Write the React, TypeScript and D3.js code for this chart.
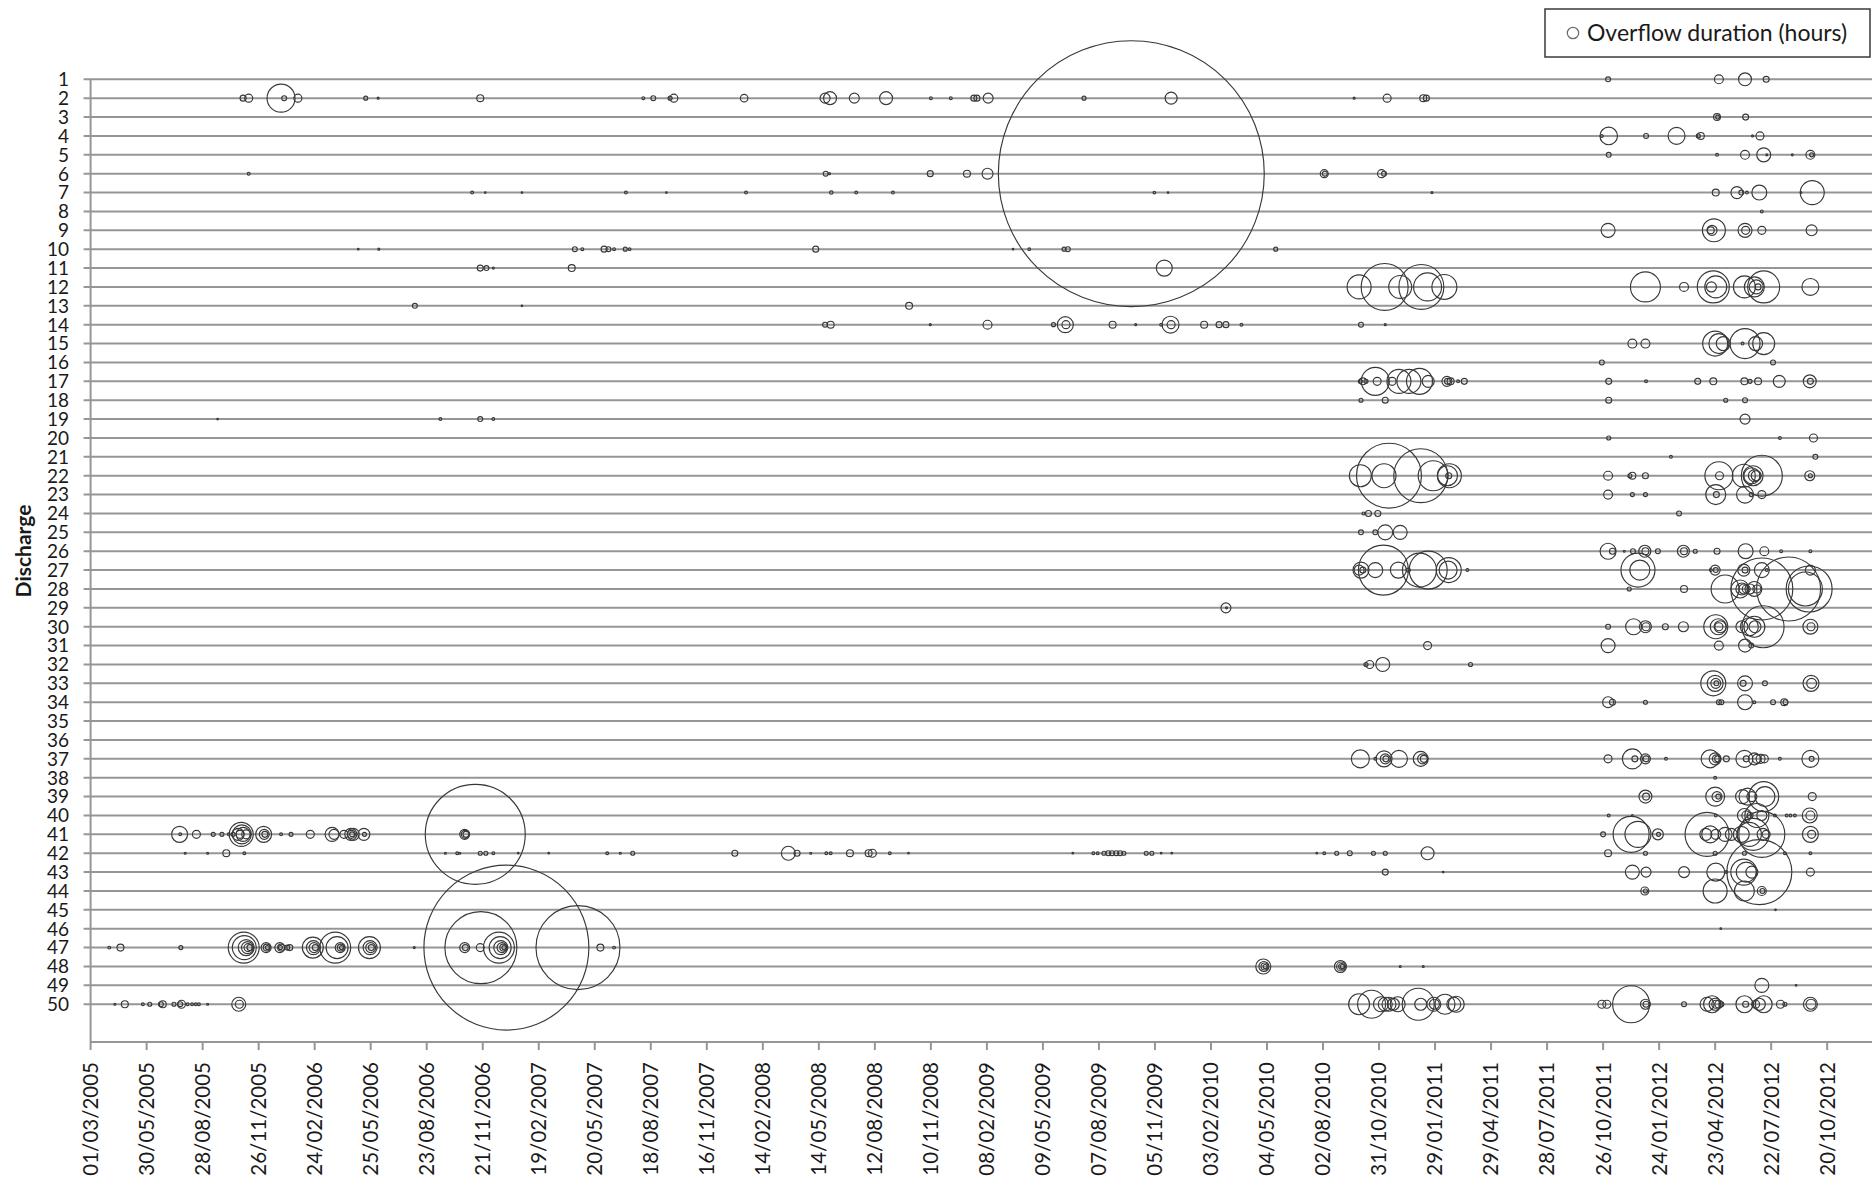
import React from "react";
import * as d3 from "d3";

type Ev = [number, number]; // [days since START_DATE, overflow duration in hours]

const START_DATE = "01/03/2005";
const END_DATE = "31/12/2012";
const TICK_LABELS = [
  "01/03/2005", "30/05/2005", "28/08/2005", "26/11/2005", "24/02/2006", "25/05/2006",
  "23/08/2006", "21/11/2006", "19/02/2007", "20/05/2007", "18/08/2007", "16/11/2007",
  "14/02/2008", "14/05/2008", "12/08/2008", "10/11/2008", "08/02/2009", "09/05/2009",
  "07/08/2009", "05/11/2009", "03/02/2010", "04/05/2010", "02/08/2010", "31/10/2010",
  "29/01/2011", "29/04/2011", "28/07/2011", "26/10/2011", "24/01/2012", "23/04/2012",
  "22/07/2012", "20/10/2012",
];
const DISCHARGE_LABELS = [
  1, 2, 3, 4, 5, 6, 7, 8, 9, 10, 11, 12, 13, 14, 15, 16, 17, 18, 19, 20, 21, 22, 23, 24, 25,
  26, 27, 28, 29, 30, 31, 32, 33, 34, 35, 36, 37, 38, 39, 40, 41, 42, 43, 44, 45, 46, 47, 48, 49, 50,
];
const LEGEND_LABEL = "Overflow duration (hours)";
const Y_TITLE = "Discharge";

const D01: Ev[] = [[2438,0.6],[2616,2.0],[2658,4.2],[2692,0.9]];
const D02: Ev[] = [[245,0.9],[254,1.6],[306,19.6],[311,0.6],[333,1.6],[442,0.4],[462,0.1],[626,1.2],[888,0.2],[904,0.6],[931,0.4],[937,1.6],[1050,1.4],[1180,2.5],[1188,4.2],[1227,2.5],[1278,4.2],[1350,0.2],[1382,0.2],[1419,0.9],[1424,0.9],[1442,2.5],[1596,0.4],[1736,3.6],[2030,0.1],[2083,1.6],[2141,1.2],[2146,0.9]];
const D03: Ev[] = [[2613,1.2],[2614,0.4],[2659,0.9]];
const D04: Ev[] = [[2428,0.2],[2439,7.7],[2499,0.6],[2548,7.2],[2583,0.4],[2587,1.2],[2670,0.1],[2682,1.6]];
const D05: Ev[] = [[2439,0.6],[2613,0.2],[2658,2.0],[2688,4.9],[2693,0.1],[2734,0.1],[2763,2.0],[2765,0.4]];
const D06: Ev[] = [[254,0.2],[1181,0.6],[1187,0.1],[1349,0.9],[1408,1.2],[1441,3.0],[1672,1769],[1982,1.6],[1983,0.6],[2074,1.6],[2078,0.6]];
const D07: Ev[] = [[613,0.2],[634,0.06],[693,0.05],[860,0.2],[925,0.05],[1053,0.2],[1190,0.3],[1230,0.2],[1289,0.2],[1709,0.17],[1731,0.06],[2155,0.1],[2611,1.2],[2645,3.6],[2652,0.6],[2661,0.2],[2681,5.6],[2748,0.05],[2766,14.4]];
const D08: Ev[] = [[2685,0.2]];
const D09: Ev[] = [[2438,4.9],[2603,1.2],[2605,2.5],[2608,13.2],[2658,4.9],[2659,1.6],[2685,1.6],[2765,3.0]];
const D10: Ev[] = [[430,0.06],[463,0.1],[778,0.6],[790,0.2],[825,0.9],[832,0.6],[841,0.2],[859,0.4],[866,0.17],[1165,0.9],[1482,0.06],[1508,0.17],[1564,0.4],[1570,0.6],[1904,0.4]];
const D11: Ev[] = [[626,0.9],[636,0.6],[647,0.1],[773,1.2],[1725,6.4]];
const D12: Ev[] = [[2038,14.4],[2079,55.2],[2104,13.2],[2138,50.6],[2148,19.6],[2175,15.6],[2498,22.5],[2560,2.0],[2604,2.5],[2607,25.6],[2611,12.1],[2657,12.1],[2673,10],[2676,4.9],[2679,0.9],[2688,25.6],[2763,7.2]];
const D13: Ev[] = [[521,0.6],[693,0.05],[1315,1.2]];
const D14: Ev[] = [[1180,0.6],[1189,1.2],[1349,0.1],[1441,2.0],[1547,0.4],[1566,6.4],[1567,1.6],[1642,1.2],[1679,0.1],[1720,0.2],[1735,7.2],[1736,1.6],[1789,1.2],[1813,0.9],[1824,0.9],[1849,0.2],[2041,0.6],[2080,0.1]];
const D15: Ev[] = [[2477,2.0],[2498,2.0],[2610,15.6],[2616,10],[2623,4.9],[2654,0.2],[2658,22.5],[2675,4.9],[2688,12.1]];
const D16: Ev[] = [[2428,0.6],[2703,0.6]];
const D17: Ev[] = [[2040,0.4],[2044,1.2],[2049,0.4],[2064,19.6],[2067,1.6],[2091,1.6],[2102,14.4],[2118,14.4],[2135,16.9],[2149,3.6],[2179,2.5],[2180,0.9],[2185,1.2],[2197,0.2],[2207,0.9],[2439,0.9],[2499,0.2],[2582,0.9],[2607,1.2],[2657,1.2],[2666,0.4],[2679,1.2],[2713,3.6],[2762,4.2],[2763,0.9]];
const D18: Ev[] = [[2041,0.4],[2080,0.9],[2439,0.9],[2627,0.4],[2658,0.6]];
const D19: Ev[] = [[204,0.05],[562,0.2],[626,0.6],[647,0.2],[2658,2.5]];
const D20: Ev[] = [[2439,0.4],[2714,0.2],[2768,1.6]];
const D21: Ev[] = [[2539,0.2],[2771,0.6]];
const D22: Ev[] = [[2040,12.1],[2078,14.4],[2086,105.6],[2137,72.9],[2157,22.5],[2180,10],[2183,14.4],[2182,0.9],[2438,2.0],[2473,0.4],[2477,1.2],[2498,0.9],[2616,19.6],[2617,1.6],[2656,13.2],[2669,6.4],[2671,10],[2673,3.6],[2676,2.5],[2685,42],[2762,2.5],[2763,0.4]];
const D23: Ev[] = [[2438,2.0],[2477,0.4],[2498,0.4],[2611,10],[2612,0.9],[2658,7.2],[2668,0.4],[2685,1.6]];
const D24: Ev[] = [[2045,0.2],[2053,0.9],[2068,0.9],[2552,0.6]];
const D25: Ev[] = [[2041,0.6],[2064,0.6],[2080,5.6],[2104,4.9]];
const D26: Ev[] = [[2438,6.4],[2445,0.9],[2464,0.1],[2478,0.6],[2497,3.6],[2498,1.2],[2518,0.6],[2559,3.6],[2560,1.2],[2578,0.4],[2613,0.9],[2659,5.6],[2689,2.0],[2716,0.2],[2763,0.2]];
const D27: Ev[] = [[2038,2.5],[2041,6.4],[2044,0.9],[2064,5.6],[2077,62.5],[2101,6.4],[2117,0.4],[2135,28.9],[2149,36.1],[2181,8.1],[2182,15.6],[2212,0.2],[2486,28.9],[2489,10],[2603,0.2],[2610,2.5],[2611,0.6],[2656,3.6],[2658,0.9],[2685,5.6],[2693,0.2],[2763,2.5]];
const D28: Ev[] = [[2472,0.4],[2560,1.2],[2626,19.6],[2650,8.1],[2653,3.6],[2656,2.5],[2660,1.6],[2666,2.5],[2673,5.6],[2677,1.6],[2685,96.1],[2728,102.4],[2755,28.9],[2761,52.9]];
const D29: Ev[] = [[1824,2.5],[1825,0.1]];
const D30: Ev[] = [[2438,0.6],[2479,6.4],[2498,3.6],[2499,1.6],[2530,0.9],[2559,2.5],[2611,14.4],[2615,6.4],[2616,1.6],[2618,3.6],[2653,3.6],[2665,8.1],[2673,11],[2674,3.6],[2687,44.1],[2763,5.6],[2764,1.6]];
const D31: Ev[] = [[2148,1.6],[2438,4.9],[2616,2.0],[2658,4.2],[2668,0.6]];
const D32: Ev[] = [[2049,0.4],[2055,1.6],[2076,4.9],[2217,0.4]];
const D33: Ev[] = [[2607,15.6],[2610,6.4],[2611,2.5],[2612,0.6],[2658,5.6],[2655,0.9],[2690,0.6],[2764,6.4],[2765,2.5]];
const D34: Ev[] = [[2438,3.0],[2445,0.9],[2498,0.4],[2616,0.6],[2620,0.6],[2658,5.6],[2673,0.2],[2703,0.6],[2721,1.2],[2723,0.6]];
const D35: Ev[] = [];
const D36: Ev[] = [];
const D37: Ev[] = [[2040,8.1],[2064,0.2],[2078,6.4],[2080,2.5],[2081,0.9],[2102,7.2],[2137,5.6],[2140,2.5],[2142,1.2],[2438,1.6],[2477,10],[2481,0.9],[2498,2.5],[2499,0.9],[2531,0.2],[2602,8.1],[2610,3.6],[2612,1.6],[2614,0.9],[2628,0.9],[2657,7.2],[2660,0.9],[2673,3.6],[2677,2.0],[2683,2.0],[2689,1.6],[2714,0.2],[2763,7.2],[2765,0.6]];
const D38: Ev[] = [[2610,0.2]];
const D39: Ev[] = [[2498,4.2],[2499,1.2],[2610,9.0],[2613,2.5],[2615,0.6],[2654,4.9],[2662,7.2],[2669,2.5],[2688,22.5],[2690,10],[2766,1.6]];
const D40: Ev[] = [[2439,0.2],[2477,0.1],[2611,0.2],[2657,4.9],[2660,2.0],[2666,0.9],[2677,14.4],[2685,2.5],[2706,0.2],[2725,0.2],[2731,0.2],[2738,0.2],[2762,5.6],[2763,2.0]];
const D41: Ev[] = [[143,6.4],[144,0.2],[170,1.6],[197,0.4],[211,0.4],[222,0.2],[229,0.4],[237,3.6],[242,14.4],[243,9.0],[245,4.9],[240,1.6],[250,2.0],[278,6.4],[279,2.5],[280,0.9],[306,0.2],[322,0.4],[353,1.6],[388,4.9],[391,2.5],[407,1.6],[418,3.6],[422,3.6],[419,1.6],[420,0.6],[439,3.6],[440,0.4],[601,2.5],[602,1.6],[603,0.9],[618,250],[2430,0.6],[2475,32.4],[2486,16.9],[2518,3.0],[2519,0.4],[2595,3.6],[2597,48.4],[2602,7.2],[2611,2.5],[2626,4.9],[2636,3.6],[2652,6.4],[2665,14.4],[2671,25.6],[2685,52.9],[2687,3.6],[2692,1.6],[2763,6.4],[2765,1.6]];
const D42: Ev[] = [[152,0.1],[188,0.1],[218,1.2],[247,0.2],[570,0.1],[589,0.2],[593,0.1],[626,0.4],[635,0.4],[647,0.2],[687,0.05],[736,0.05],[830,0.2],[851,0.1],[871,0.4],[1035,0.9],[1121,4.9],[1135,0.9],[1157,0.1],[1182,0.2],[1189,0.2],[1220,1.2],[1250,1.2],[1256,1.6],[1284,0.2],[1314,0.05],[1578,0.05],[1611,0.2],[1618,0.2],[1628,0.4],[1635,0.6],[1641,0.6],[1648,0.6],[1654,0.6],[1660,0.4],[1696,0.4],[1705,0.4],[1720,0.06],[1737,0.06],[1970,0.05],[1982,0.2],[2002,0.4],[2023,0.6],[2061,0.4],[2080,0.4],[2148,4.2],[2438,1.2],[2498,0.4],[2610,0.4],[2657,0.4],[2722,0.2],[2763,0.2]];
const D43: Ev[] = [[2080,0.9],[2173,0.05],[2477,4.9],[2499,2.5],[2560,3.0],[2611,8.1],[2628,0.2],[2656,16.9],[2660,10],[2669,3.6],[2681,105.6],[2763,1.6]];
const D44: Ev[] = [[2497,1.6],[2498,0.4],[2610,14.4],[2657,10],[2685,2.0],[2686,0.6]];
const D45: Ev[] = [[2707,0.06]];
const D46: Ev[] = [[2619,0.06]];
const D47: Ev[] = [[30,0.2],[48,1.2],[145,0.4],[246,24],[247,14.4],[250,6.4],[252,3.6],[253,1.6],[256,0.9],[282,2.5],[283,1.2],[284,0.4],[304,2.5],[306,1.2],[305,0.4],[316,0.6],[320,0.9],[357,11],[358,4.9],[359,2.5],[361,0.9],[393,24],[396,12.1],[401,2.5],[402,1.2],[403,0.4],[448,12.1],[449,4.9],[450,2.5],[451,0.9],[520,0.1],[601,2.5],[602,0.9],[626,1.6],[627,129.6],[656,24],[658,12.1],[659,4.9],[661,2.5],[663,1.2],[664,0.4],[668,680.6],[783,176.4],[819,1.2],[841,0.2]];
const D48: Ev[] = [[1884,5.6],[1885,2.5],[1886,1.2],[1887,0.4],[2008,3.6],[2009,2.0],[2010,0.9],[2011,0.4],[2104,0.1],[2141,0.1]];
const D49: Ev[] = [[2685,4.9],[2740,0.05]];
const D50: Ev[] = [[39,0.1],[55,1.2],[84,0.2],[95,0.4],[113,0.6],[116,1.2],[134,0.4],[144,0.6],[146,1.6],[156,0.2],[163,0.2],[169,0.2],[174,0.2],[188,0.1],[238,4.9],[239,1.6],[2038,11],[2058,19.6],[2073,5.6],[2080,4.9],[2086,4.9],[2093,3.6],[2100,5.6],[2133,25.6],[2137,3.6],[2158,4.9],[2159,2.5],[2176,10],[2190,4.9],[2194,6.4],[2428,1.6],[2436,1.6],[2475,34.2],[2498,2.5],[2499,0.9],[2560,0.6],[2597,4.9],[2605,7.2],[2610,3.6],[2611,1.6],[2616,1.6],[2620,0.6],[2657,7.2],[2659,0.9],[2675,1.6],[2681,3.6],[2688,7.2],[2715,1.6],[2722,0.4],[2763,4.9],[2764,2.5]];

const ROWS: Ev[][] = [
  D01, D02, D03, D04, D05, D06, D07, D08, D09, D10, D11, D12, D13, D14, D15, D16, D17, D18, D19, D20,
  D21, D22, D23, D24, D25, D26, D27, D28, D29, D30, D31, D32, D33, D34, D35, D36, D37, D38, D39, D40,
  D41, D42, D43, D44, D45, D46, D47, D48, D49, D50,
];

const W = 1876;
const H = 1192;
const FONT = "Lato, 'Open Sans', 'Noto Sans', sans-serif";

export default function App() {
  const parse = d3.utcParse("%d/%m/%Y");
  const start = parse(START_DATE) as Date;
  const end = parse(END_DATE) as Date;

  const x = d3.scaleUtc().domain([start, end]).range([90.6, 1872]);
  const y = d3.scaleLinear().domain([1, 52]).range([79.3, 1042]);
  const r = d3.scaleSqrt().domain([0, 1770]).range([0, 133]);

  const ticks = TICK_LABELS.map((t) => ({ label: t, date: parse(t) as Date }));

  const bubbles = ROWS.flatMap((row, i) =>
    row.map(([day, hours]) => ({
      discharge: DISCHARGE_LABELS[i],
      date: d3.utcDay.offset(start, day),
      hours,
    }))
  ).sort((a, b) => b.hours - a.hours);

  const [x0, x1] = x.range();
  const yBottom = y(52);

  return (
    <svg
      width={W}
      height={H}
      viewBox={`0 0 ${W} ${H}`}
      style={{ position: "absolute", left: 0, top: 0, background: "#fff" }}
      fontFamily={FONT}
    >
      <rect x={0} y={0} width={W} height={H} fill="#fff" />
      {DISCHARGE_LABELS.map((d) => (
        <line key={`g${d}`} x1={x0 - 7} x2={x1} y1={y(d)} y2={y(d)} stroke="#969696" strokeWidth={2} />
      ))}
      <line x1={x0} x2={x0} y1={y(1)} y2={yBottom} stroke="#969696" strokeWidth={2} />
      <line x1={x0} x2={x1} y1={yBottom} y2={yBottom} stroke="#969696" strokeWidth={2} />
      {ticks.map((t) => (
        <line key={`t${t.label}`} x1={x(t.date)} x2={x(t.date)} y1={yBottom} y2={yBottom + 8} stroke="#969696" strokeWidth={2} />
      ))}
      {DISCHARGE_LABELS.map((d) => (
        <text key={`yl${d}`} x={69} y={y(d)} dy="0.36em" textAnchor="end" fontSize={19} fill="#1a1a1a">
          {d}
        </text>
      ))}
      {ticks.map((t) => (
        <text
          key={`xl${t.label}`}
          transform={`translate(${x(t.date)},${yBottom + 20}) rotate(-90)`}
          dy="0.36em"
          textAnchor="end"
          fontSize={20.5}
          fill="#1a1a1a"
        >
          {t.label}
        </text>
      ))}
      <text
        transform={`translate(23,551) rotate(-90)`}
        dy="0.36em"
        textAnchor="middle"
        fontSize={21}
        fontWeight="bold"
        fill="#1a1a1a"
      >
        {Y_TITLE}
      </text>
      <g fill="none" stroke="#383838" strokeWidth={1.15}>
        {bubbles.map((b, i) => (
          <circle key={i} cx={x(b.date)} cy={y(b.discharge)} r={Math.max(0.8, r(b.hours))} />
        ))}
      </g>
      <rect x={1545} y={9} width={325} height={48} fill="#fff" stroke="#3a3a3a" strokeWidth={1.5} />
      <circle cx={1573} cy={33} r={5.7} fill="none" stroke="#6a6a6a" strokeWidth={1.2} />
      <text x={1587} y={33} dy="0.36em" fontSize={23} fill="#1a1a1a">
        {LEGEND_LABEL}
      </text>
    </svg>
  );
}
